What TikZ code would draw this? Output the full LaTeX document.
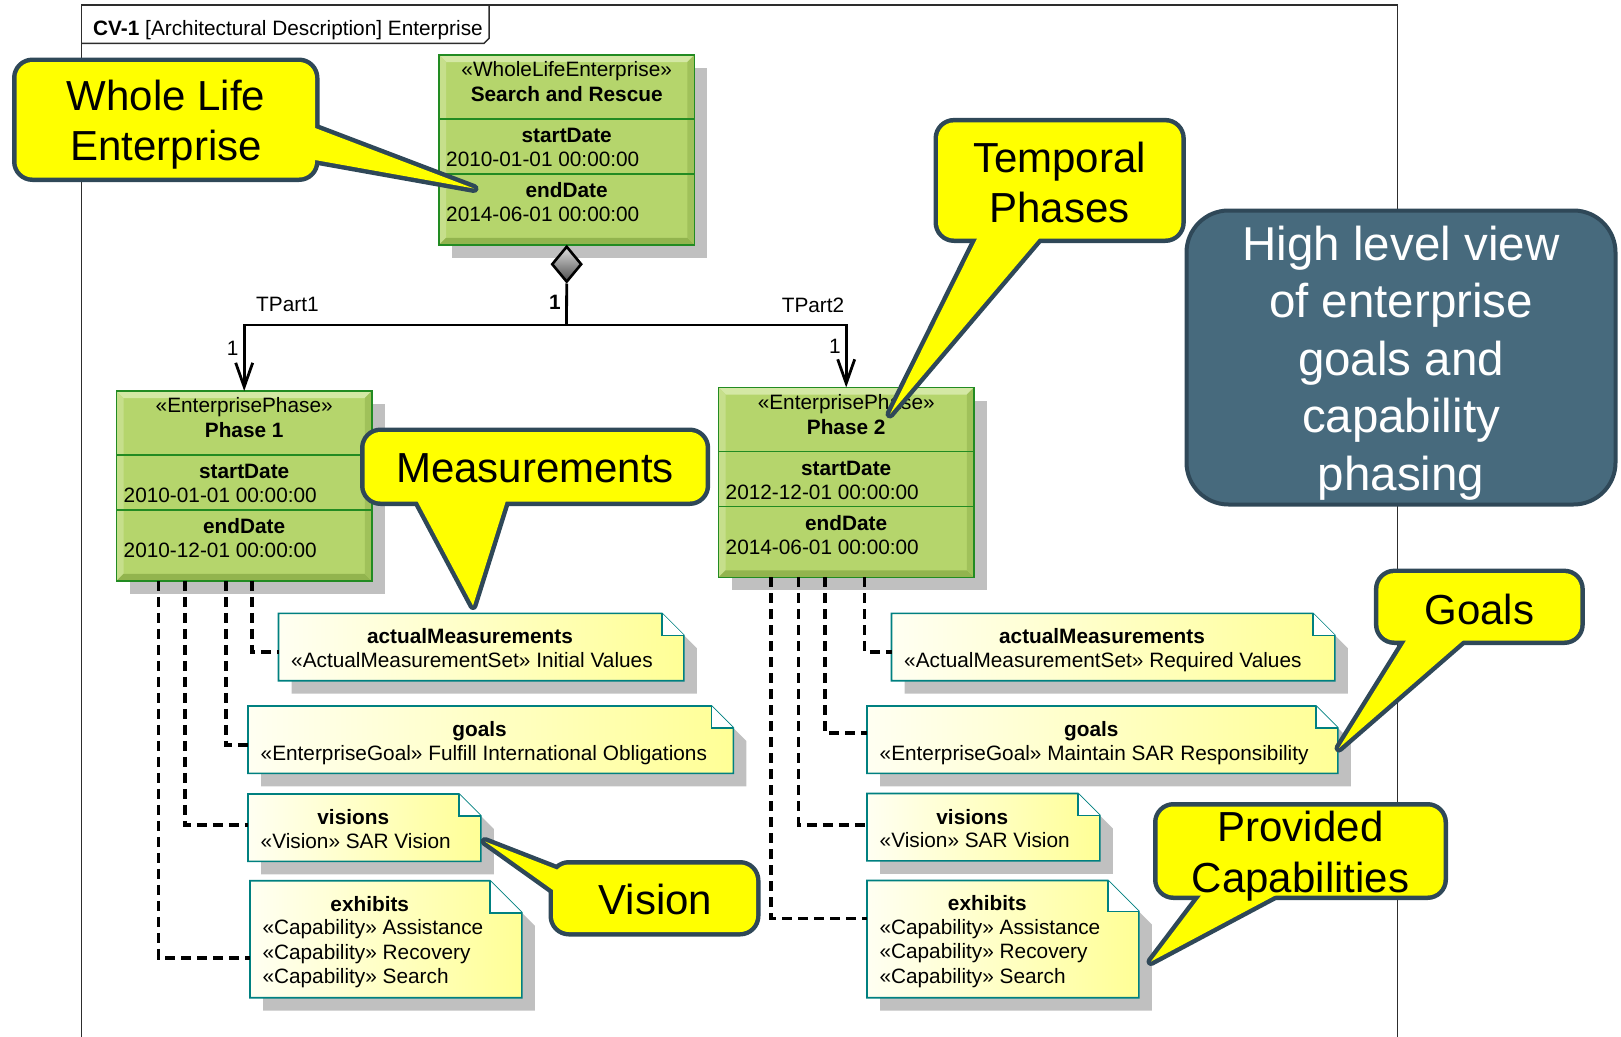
\documentclass[tikz,border=0pt]{standalone}
\usepackage{fontspec}
\setmainfont{Liberation Sans}
\usetikzlibrary{arrows.meta,calc,shapes.geometric}

\definecolor{clsfill}{RGB}{181,213,108}
\definecolor{clslight}{RGB}{212,232,165}
\definecolor{clsdark}{RGB}{146,180,78}
\definecolor{clsline}{RGB}{34,139,34}
\definecolor{shadowgray}{RGB}{192,192,192}
\definecolor{noteline}{RGB}{0,128,128}
\definecolor{notelight}{RGB}{255,255,242}
\definecolor{noteyellow}{RGB}{255,255,150}
\definecolor{calloutfill}{RGB}{255,255,0}
\definecolor{calloutline}{RGB}{47,72,88}
\definecolor{bluefill}{RGB}{71,106,125}
\definecolor{frameline}{RGB}{45,45,45}

\tikzset{
  smalltxt/.style={font=\fontsize{20.8}{24.5}\selectfont, inner sep=0pt, text height=15pt, text depth=0pt},
  smallbold/.style={smalltxt, font=\fontsize{20.8}{24.5}\selectfont\bfseries},
  clsnode/.style={rectangle, anchor=north west, inner sep=0pt, minimum width=255pt, minimum height=189.5pt},
  notenode/.style={rectangle, anchor=north west, inner sep=0pt},
  clsborder/.style={draw=clsline, line width=1.6pt},
  assoc/.style={draw=black, line width=2.8pt},
  openhead/.style={-{Straight Barb[length=24pt,width=17pt]}},
  dep/.style={draw=black, line width=3.5pt, dash pattern=on 10pt off 6pt},
  callout edge/.style={draw=calloutline, line width=9pt, line join=round},
  callout text/.style={font=\fontsize{42}{50}\selectfont, align=center, inner sep=0pt},
}

% class box body: shadow, bevelled green fill, border and compartments
\newcommand\drawclass[1]{%
  \fill[shadowgray] ($(#1.north west)+(13,13)$) rectangle ($(#1.south east)+(13,13)$);
  \fill[clsfill] (#1.north west) rectangle (#1.south east);
  \fill[clslight] (#1.north west) -- (#1.north east) -- ($(#1.north east)+(-7,7)$) -- ($(#1.north west)+(7,7)$) -- cycle;
  \fill[clslight!55!clsfill] (#1.north west) -- ($(#1.north west)+(7,7)$) -- ($(#1.south west)+(7,-7)$) -- (#1.south west) -- cycle;
  \fill[clsdark] (#1.south west) -- ($(#1.south west)+(7,-7)$) -- ($(#1.south east)+(-7,-7)$) -- (#1.south east) -- cycle;
  \fill[clsdark!60!clsfill] (#1.north east) -- (#1.south east) -- ($(#1.south east)+(-7,-7)$) -- ($(#1.north east)+(-7,7)$) -- cycle;
  \draw[clsborder] (#1.north west) rectangle (#1.south east);
  \draw[clsborder] ($(#1.north west)+(0,64)$) -- ($(#1.north east)+(0,64)$);
  \draw[clsborder] ($(#1.north west)+(0,119)$) -- ($(#1.north east)+(0,119)$);
}

% class box texts: stereotype, name, start and end dates
\newcommand\classtext[5]{%
  \node[smalltxt] (#1-st) at ($(#1.north)+(0,14)$) {«#2»};
  \node[smallbold] (#1-nm) at ($(#1.north)+(0,39)$) {#3};
  \node[smallbold] (#1-sd) at ($(#1.north)+(0,80)$) {startDate};
  \node[smalltxt, anchor=west] (#1-sv) at ($(#1.north west)+(7,104)$) {#4};
  \node[smallbold] (#1-ed) at ($(#1.north)+(0,135)$) {endDate};
  \node[smalltxt, anchor=west] (#1-ev) at ($(#1.north west)+(7,159)$) {#5};
}

% note with folded corner and drop shadow
\newcommand\drawnote[2]{%
  \fill[shadowgray] ($(#1.north west)+(13,13)$) -- ($(#1.north east)+(13-#2,13)$) -- ($(#1.north east)+(13,13+#2)$) -- ($(#1.south east)+(13,13)$) -- ($(#1.south west)+(13,13)$) -- cycle;
  \shadedraw[left color=notelight, right color=noteyellow, draw=noteline, line width=1.6pt] (#1.north west) -- ($(#1.north east)+(-#2,0)$) -- ($(#1.north east)+(0,#2)$) -- (#1.south east) -- (#1.south west) -- cycle;
  \filldraw[fill=white, draw=noteline, line width=1.6pt] ($(#1.north east)+(-#2,0)$) -- ($(#1.north east)+(-#2,#2)$) -- ($(#1.north east)+(0,#2)$);
}

% speech-bubble outline: rounded box joined with a pointer
\newcommand\calloutshape[4]{%
  \draw[callout edge, rounded corners=16pt] #1;
  \draw[callout edge] ($#3!1.25!#2$) -- #3 -- ($#3!1.25!#4$);
  \fill[calloutfill, rounded corners=16pt] #1;
  \fill[calloutfill] ($#3!1.25!#2$) -- #3 -- ($#3!1.25!#4$) -- cycle;
}

\begin{document}
\begin{tikzpicture}[x=1pt, y=-1pt]
\useasboundingbox (0,0) rectangle (1621,1036);

% diagram frame and its name tab
\draw[frameline, line width=1.5pt] (81.7,1040) -- (81.7,5.2) -- (1397.7,5.2) -- (1397.7,1040);
\draw[frameline, line width=1.5pt] (81.7,43.4) -- (484,43.4) -- (489,38.4) -- (489,5.2);
\node[smalltxt, anchor=west] (title) at (93,28) {\textbf{CV-1} [Architectural Description] Enterprise};

% enterprise and phases
\node[clsnode] (wle) at (439,55) {};
\node[clsnode] (p1) at (116.5,391) {};
\node[clsnode] (p2) at (718.5,387.5) {};
\drawclass{wle}
\drawclass{p1}
\drawclass{p2}
\classtext{wle}{WholeLifeEnterprise}{Search and Rescue}{2010-01-01 00:00:00}{2014-06-01 00:00:00}
\classtext{p1}{EnterprisePhase}{Phase 1}{2010-01-01 00:00:00}{2010-12-01 00:00:00}
\classtext{p2}{EnterprisePhase}{Phase 2}{2012-12-01 00:00:00}{2014-06-01 00:00:00}

% notes
\node[notenode, minimum width=405pt, minimum height=67pt] (am1) at (278.5,613.3) {};
\node[notenode, minimum width=485pt, minimum height=67pt] (g1) at (248,706) {};
\node[notenode, minimum width=232.5pt, minimum height=67pt] (v1) at (248,794) {};
\node[notenode, minimum width=271.5pt, minimum height=116.6pt] (e1) at (250,880.7) {};
\node[notenode, minimum width=443pt, minimum height=67pt] (am2) at (891.5,613.3) {};
\node[notenode, minimum width=470.5pt, minimum height=67pt] (g2) at (867,706) {};
\node[notenode, minimum width=232.5pt, minimum height=67pt] (v2) at (867,793.5) {};
\node[notenode, minimum width=271.5pt, minimum height=116.8pt] (e2) at (867,880.5) {};
\drawnote{am1}{22}
\drawnote{g1}{22}
\drawnote{v1}{22}
\drawnote{e1}{32}
\drawnote{am2}{22}
\drawnote{g2}{22}
\drawnote{v2}{22}
\drawnote{e2}{31}

\node[smallbold] (am1-t) at (470,636.3) {actualMeasurements};
\node[smalltxt, anchor=west] (am1-l) at (291,659.8) {«ActualMeasurementSet» Initial Values};
\node[smallbold] (g1-t) at (479.5,729) {goals};
\node[smalltxt, anchor=west] (g1-l) at (260.5,752.5) {«EnterpriseGoal» Fulfill International Obligations};
\node[smallbold] (v1-t) at (353.25,817) {visions};
\node[smalltxt, anchor=west] (v1-l) at (260.5,840.5) {«Vision» SAR Vision};
\node[smallbold] (e1-t) at (369.75,903.5) {exhibits};
\node[smalltxt, anchor=west] (e1-a) at (262.3,927) {«Capability» Assistance};
\node[smalltxt, anchor=west] (e1-b) at (262.3,951.5) {«Capability» Recovery};
\node[smalltxt, anchor=west] (e1-c) at (262.3,976) {«Capability» Search};

\node[smallbold] (am2-t) at (1102,636.3) {actualMeasurements};
\node[smalltxt, anchor=west] (am2-l) at (904,659.8) {«ActualMeasurementSet» Required Values};
\node[smallbold] (g2-t) at (1091.25,729) {goals};
\node[smalltxt, anchor=west] (g2-l) at (879.5,752.5) {«EnterpriseGoal» Maintain SAR Responsibility};
\node[smallbold] (v2-t) at (972.25,816.5) {visions};
\node[smalltxt, anchor=west] (v2-l) at (879.5,840) {«Vision» SAR Vision};
\node[smallbold] (e2-t) at (987.25,903.3) {exhibits};
\node[smalltxt, anchor=west] (e2-a) at (879.3,926.8) {«Capability» Assistance};
\node[smalltxt, anchor=west] (e2-b) at (879.3,951.3) {«Capability» Recovery};
\node[smalltxt, anchor=west] (e2-c) at (879.3,975.8) {«Capability» Search};

% composite association with two parts
\node[diamond, draw=black, line width=2.6pt, inner sep=0pt, minimum width=30pt, minimum height=36pt,
      anchor=north, top color=gray!25, bottom color=black!70] (agg) at (wle.south) {};
\coordinate (j) at (566.5,325);
\draw[assoc] (agg.south) -- (j);
\draw[assoc, openhead] (j) -| (p1.north);
\draw[assoc, openhead] (j) -| (p2.north);
\node[smallbold] (m0) at (555,301.5) {1};
\node[smalltxt] (rn1) at (287.4,304) {TPart1};
\node[smalltxt] (rn2) at (813,305) {TPart2};
\node[smalltxt] (m1) at (232.6,348) {1};
\node[smalltxt] (m2) at (835,346) {1};

% property links from the phases to their notes
\draw[dep] ($(p1.south)+(8,0)$) |- ($(am1.west)+(0,5)$);
\draw[dep] ($(p1.south)+(-18,0)$) |- ($(g1.west)+(0,5.5)$);
\draw[dep] ($(p1.south)+(-59,0)$) |- ($(v1.west)+(0,-2.5)$);
\draw[dep] ($(p1.south)+(-85.5,0)$) |- ($(e1.west)+(0,19)$);
\draw[dep] ($(p2.south)+(18.5,0)$) |- ($(am2.west)+(0,5)$);
\draw[dep] ($(p2.south)+(-21,0)$) |- ($(g2.west)+(0,-6.5)$);
\draw[dep] ($(p2.south)+(-47.5,0)$) |- ($(v2.west)+(0,-2)$);
\draw[dep] ($(p2.south)+(-75,0)$) |- ($(e2.west)+(0,-20.5)$);

% summary box
\node[draw=calloutline, fill=bluefill, line width=4pt, rounded corners=42pt,
      minimum width=429pt, minimum height=294pt] (hl) at (1401,357.5) {};
\node[font=\fontsize{47.5}{57.5}\selectfont, text=white, align=center, inner sep=0pt] (hl-t) at (1401,363)
  {High level view\\of enterprise\\goals and\\capability\\phasing};

% speech bubbles
\calloutshape{(16.5,62) rectangle (315,177.5)}{(315,128)}{(474,188.5)}{(315,160)}
\calloutshape{(938,122.4) rectangle (1181.3,238.5)}{(977,238.5)}{(890,414)}{(1039,238.5)}
\calloutshape{(364.5,432) rectangle (705.7,501.5)}{(417.6,501.5)}{(473,605.5)}{(505.7,501.5)}
\calloutshape{(1378.4,573.1) rectangle (1580.3,640.5)}{(1406,640.5)}{(1339,748)}{(1462.8,640.5)}
\calloutshape{(553,864.5) rectangle (756,932)}{(553,868)}{(485,841.5)}{(553,890)}
\calloutshape{(1157.5,806.5) rectangle (1443.5,895.5)}{(1201,895.5)}{(1151,961.5)}{(1275,895.5)}

\node[callout text] (c-wle) at (166,125) {Whole Life\\Enterprise};
\node[callout text] (c-tp) at (1059.6,182.5) {Temporal\\Phases};
\node[callout text] (c-ms) at (535,468.3) {Measurements};
\node[callout text] (c-gl) at (1479.4,609) {Goals};
\node[callout text] (c-vs) at (655.4,899.4) {Vision};
\node[callout text, font=\fontsize{42}{50.7}\selectfont] (c-pc) at (1300.5,856.4) {Provided\\Capabilities};
\end{tikzpicture}
\end{document}
